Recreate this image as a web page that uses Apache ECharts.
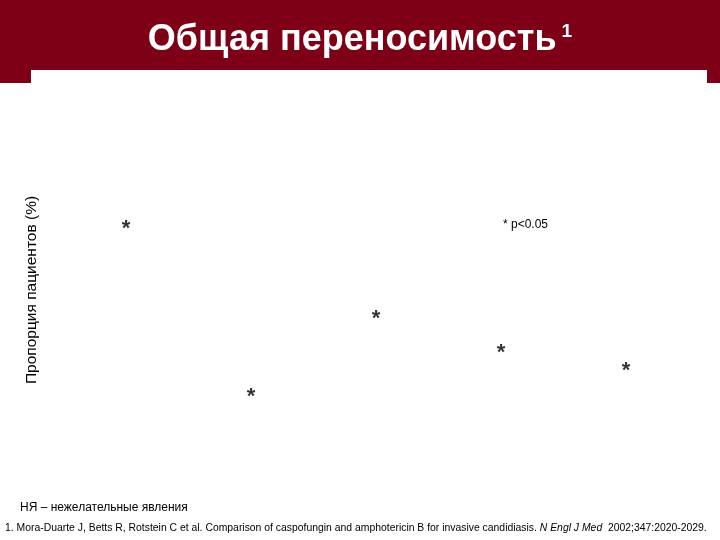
<!DOCTYPE html>
<html>
<head>
<meta charset="utf-8">
<script src="https://cdn.jsdelivr.net/npm/echarts@6/dist/echarts.min.js"></script>
<style>
  html, body { margin: 0; padding: 0; background: #fff; }
  #chart { width: 720px; height: 540px; }
</style>
</head>
<body>
<div id="chart"></div>
<script>
// группы (подписи на картинке не видны)
var categories = ['1', '2', '3', '4', '5'];
// высота звёздочек p<0.05, % пациентов
var starValues = [66, 24, 43.5, 35, 30.5];

var FONT = 'Arial, "Liberation Sans", sans-serif';
var RED = '#7d0016';

var chart = echarts.init(document.getElementById('chart'));
var option = {
    backgroundColor: '#fff',
    title: {
        text: '{t|Общая переносимость} {s|1}',
        left: 'center',
        top: 17,
        textStyle: {
            rich: {
                t: { fontFamily: FONT, fontSize: 36, fontWeight: 'bold', color: '#fff' },
                s: { fontFamily: FONT, fontSize: 19, color: '#fff', verticalAlign: 'top', padding: [0, 0, 16, 0] }
            }
        }
    },
    graphic: [
        // шапка слайда
        { type: 'rect', z: -10, shape: { x: 0, y: 0, width: 720, height: 70 }, style: { fill: RED } },
        { type: 'rect', z: -10, shape: { x: 0, y: 0, width: 31, height: 83 }, style: { fill: RED } },
        { type: 'rect', z: -10, shape: { x: 707, y: 0, width: 13, height: 83 }, style: { fill: RED } },
        { type: 'text', left: 503, top: 219, style: { text: '* p<0.05', font: '12px ' + FONT, fill: '#000' } },
        { type: 'text', left: 20, top: 502, style: { text: 'НЯ – нежелательные явления', font: '12px ' + FONT, fill: '#000' } },
        {
            type: 'text', left: 5, top: 523,
            style: {
                rich: {
                    n: { fontFamily: FONT, fontSize: 10.4, fill: '#000' },
                    i: { fontFamily: FONT, fontSize: 10.4, fontStyle: 'italic', fill: '#000' }
                },
                text: '{n|1. Mora-Duarte J, Betts R, Rotstein C et al. Comparison of caspofungin and amphotericin B for invasive candidiasis. }{i|N Engl J Med}{n|  2002;347:2020-2029.}'
            }
        }
    ],
    grid: { left: 63.5, width: 625, top: 90, height: 400 },
    xAxis: {
        type: 'category',
        data: categories,
        show: false
    },
    yAxis: {
        type: 'value',
        min: 0,
        max: 100,
        name: 'Пропорция пациентов (%)',
        nameLocation: 'middle',
        nameRotate: 90,
        nameGap: 24,
        nameTextStyle: { fontFamily: FONT, fontSize: 15.5, color: '#000' },
        axisLine: { show: false },
        axisTick: { show: false },
        axisLabel: { show: false },
        splitLine: { show: false }
    },
    series: [{
        type: 'scatter',
        data: starValues,
        symbolSize: 0,
        silent: true,
        label: {
            show: true,
            position: 'inside',
            formatter: '*',
            fontFamily: FONT,
            fontSize: 22,
            fontWeight: 'bold',
            color: '#000',
            offset: [0, 3]
        }
    }]
};
chart.setOption(option);
</script>
</body>
</html>
